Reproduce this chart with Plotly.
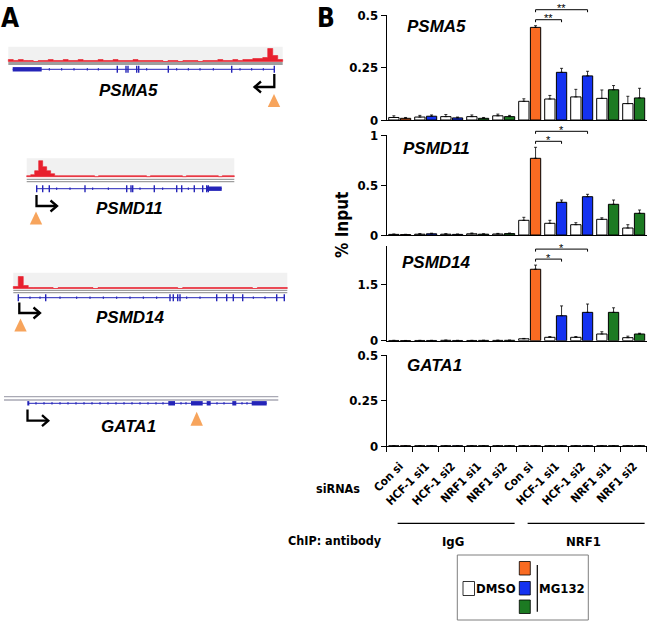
import plotly.graph_objects as go

W, H = 650, 621

# ---------------- data ----------------
sirnas = ["Con si", "HCF-1 si1", "HCF-1 si2", "NRF1 si1", "NRF1 si2"]
chip_groups = ["IgG", "NRF1"]
tick_labels = sirnas + sirnas
genes = ["PSMA5", "PSMD11", "PSMD14", "GATA1"]

psma5_dmso = [0.012, 0.014, 0.016, 0.016, 0.020, 0.089, 0.100, 0.110, 0.103, 0.078]
psma5_dmso_err = [0.008, 0.008, 0.010, 0.008, 0.008, 0.012, 0.017, 0.036, 0.040, 0.035]
psma5_mg = [0.008, 0.018, 0.010, 0.008, 0.016, 0.441, 0.227, 0.210, 0.144, 0.105]
psma5_mg_err = [0.004, 0.006, 0.004, 0.004, 0.006, 0.008, 0.019, 0.022, 0.020, 0.046]

psmd11_dmso = [0.006, 0.008, 0.008, 0.012, 0.010, 0.147, 0.117, 0.103, 0.157, 0.070]
psmd11_dmso_err = [0.004, 0.006, 0.005, 0.008, 0.006, 0.030, 0.030, 0.020, 0.015, 0.033]
psmd11_mg = [0.004, 0.012, 0.006, 0.008, 0.014, 0.767, 0.327, 0.383, 0.307, 0.217]
psmd11_mg_err = [0.003, 0.006, 0.004, 0.004, 0.006, 0.110, 0.023, 0.024, 0.043, 0.033]

psmd14_dmso = [0.006, 0.006, 0.010, 0.006, 0.008, 0.050, 0.090, 0.090, 0.177, 0.080]
psmd14_dmso_err = [0.004, 0.004, 0.006, 0.004, 0.006, 0.010, 0.020, 0.020, 0.060, 0.040]
psmd14_mg = [0.004, 0.006, 0.006, 0.008, 0.010, 1.890, 0.660, 0.750, 0.750, 0.177]
psmd14_mg_err = [0.003, 0.004, 0.004, 0.004, 0.006, 0.110, 0.260, 0.220, 0.120, 0.020]

gata1_dmso = [0.001, 0.001, 0.001, 0.001, 0.001, 0.001, 0.001, 0.001, 0.001, 0.001]
gata1_dmso_err = [0, 0, 0, 0, 0, 0, 0, 0, 0, 0]
gata1_mg = [0.001, 0.001, 0.001, 0.001, 0.001, 0.001, 0.001, 0.001, 0.001, 0.001]
gata1_mg_err = [0, 0, 0, 0, 0, 0, 0, 0, 0, 0]

# significance: (from index, to index, label)
sig_psma5 = [(5, 6, "**"), (5, 7, "**")]
sig_psmd11 = [(5, 6, "*"), (5, 7, "*")]
sig_psmd14 = [(5, 6, "*"), (5, 7, "*")]
sig_gata1 = []

# ChIP-seq signal heights (relative, read from the tracks)
psma5_signal = [2, 1, 2, 1, 1, 0, 1, 1, 2, 1, 1, 2, 1, 1, 2, 1, 1, 1, 2, 1, 1, 2, 1, 1, 1, 2, 1, 1,
                1, 1, 1, 0, 1, 1, 0, 1, 1, 1, 0, 1, 1, 1, 2, 1, 1, 2, 1, 2, 2, 3, 3, 4, 13, 6, 2]
psmd11_signal = [1, 2, 6, 16, 10, 6, 3, 1, 1, 1, 1, 1, 1, 1, 1, 1, 1, 0, 1, 1, 1, 1, 1, 1, 1, 1,
                 1, 1, 1, 1, 0, 1, 1, 1, 1, 1, 1, 1, 1, 0, 1, 1, 1, 1, 1, 1, 1, 1, 0, 1, 1, 1]
psmd14_signal = [2, 12, 3, 1, 1, 1, 1, 1, 0, 1, 1, 1, 1, 1, 1, 1, 0, 1, 1, 1, 1, 1, 1, 1, 1, 1, 1, 1,
                 1, 1, 1, 1, 1, 0, 1, 1, 1, 1, 1, 1, 1, 1, 1, 1, 1, 1, 1, 1, 0, 1, 1, 1, 1, 1, 1]
gata1_signal = []

# ---------------- styles / geometry ----------------
ORANGE = "#F96B22"
BLUE = "#1432F0"
GREEN = "#1C7A22"
mg_colors = [ORANGE, BLUE, BLUE, GREEN, GREEN] * 2
GENE_BLUE = "#2424B8"
SIG_RED = "#E8202E"
TRI = "#F7A45C"
COND = "Liberation Sans Narrow, DejaVu Sans Condensed, Arial Narrow, sans-serif"
HELV = "Liberation Sans, Arial, Helvetica, sans-serif"

def px(x):
    return x / W

def py(y):
    return 1 - y / H

X_LEFT, X_RIGHT = 386.7, 646.7
xdom = [px(X_LEFT), px(X_RIGHT)]
panel_px = [(120, 15), (235, 135), (340.7, 246.2), (446, 355)]
panel_max = [0.5, 1.0, 2.5, 0.5]
panel_ticks = [[0, 0.25, 0.5], [0, 0.5, 1], [0, 1.5], [0, 0.25, 0.5]]
panel_ticktext = [["0", "0.25", "0.5"], ["0", "0.5", "1"], ["0", "1.5"], ["0", "0.25", "0.5"]]
title_px = [(436, 27), (436, 149), (436, 262.7), (434.5, 366)]

panels = [
    (psma5_dmso, psma5_dmso_err, psma5_mg, psma5_mg_err, sig_psma5),
    (psmd11_dmso, psmd11_dmso_err, psmd11_mg, psmd11_mg_err, sig_psmd11),
    (psmd14_dmso, psmd14_dmso_err, psmd14_mg, psmd14_mg_err, sig_psmd14),
    (gata1_dmso, gata1_dmso_err, gata1_mg, gata1_mg_err, sig_gata1),
]

fig = go.Figure()
xi = list(range(10))
shapes = []
annotations = []
BAR_OFF = 0.225

def xpaper(v):
    return xdom[0] + (v + 0.5) / 10 * (xdom[1] - xdom[0])

def ann(x, y, text, font, xanchor="center", yanchor="middle", angle=0, xref="paper", yref="paper"):
    annotations.append(dict(x=x, y=y, xref=xref, yref=yref, text=text, showarrow=False,
                            xanchor=xanchor, yanchor=yanchor, textangle=angle, font=font))

TITLE_FONT = dict(family=HELV, size=17, color="black", weight="bold", style="italic")

for k, (dm, dme, mg, mge, sig) in enumerate(panels):
    n = k + 1
    xa = "x" if n == 1 else f"x{n}"
    ya = "y" if n == 1 else f"y{n}"
    fig.add_trace(go.Bar(
        x=xi, y=dm, xaxis=xa, yaxis=ya, name="DMSO",
        marker=dict(color="white", line=dict(color="black", width=1)),
        error_y=dict(type="data", array=dme, arrayminus=[0] * 10, symmetric=False,
                     color="black", thickness=0.8, width=1.5),
    ))
    fig.add_trace(go.Bar(
        x=xi, y=mg, xaxis=xa, yaxis=ya, name="MG132",
        marker=dict(color=mg_colors, line=dict(color="black", width=1)),
        error_y=dict(type="data", array=mge, arrayminus=[0] * 10, symmetric=False,
                     color="black", thickness=0.8, width=1.5),
    ))
    z, t = panel_px[k]
    dom = [py(z), py(t)]
    yax = dict(domain=dom, range=[0, panel_max[k]], anchor=xa, showline=True,
               linecolor="black", linewidth=1, ticks="outside", ticklen=5,
               tickcolor="black", tickvals=panel_ticks[k], ticktext=panel_ticktext[k],
               tickfont=dict(family=COND, size=13, color="black", weight="bold"),
               showgrid=False, zeroline=False, fixedrange=True, automargin=False)
    xax = dict(domain=xdom, range=[-0.5, 9.5], anchor=ya, showline=True,
               linecolor="black", linewidth=1, showgrid=False, zeroline=False,
               ticks="", showticklabels=False, automargin=False, fixedrange=True)
    if n == 4:
        xax.update(showticklabels=True, tickvals=xi, ticktext=tick_labels, tickangle=-45,
                   ticklabelstandoff=8,
                   tickfont=dict(family=COND, size=11.5, color="black", weight="bold"),
                   minor=dict(ticks="outside", ticklen=5, tickcolor="black", tickwidth=1,
                              tickvals=[i - 0.5 for i in range(11)]))
    fig.layout[("xaxis" if n == 1 else f"xaxis{n}")] = xax
    fig.layout[("yaxis" if n == 1 else f"yaxis{n}")] = yax

    ann(px(title_px[k][0]), py(title_px[k][1]), genes[k], TITLE_FONT)

    def ypix(v, z=z, t=t, m=panel_max[k]):
        return z - v / m * (z - t)
    for j, (a, b, lab) in enumerate(sig):
        top = ypix(max(dm[a] + dme[a], mg[a] + mge[a]))
        yb = top - 6 - 10 * j
        x0 = xpaper(a + BAR_OFF)
        x1 = xpaper(b + BAR_OFF)
        shapes.append(dict(type="path", xref="paper", yref="paper",
                           path=f"M {x0},{py(yb + 2.5)} L {x0},{py(yb)} L {x1},{py(yb)} L {x1},{py(yb + 2.5)}",
                           line=dict(color="black", width=1)))
        ann((x0 + x1) / 2, py(yb - 1.5), lab, dict(family=HELV, size=11, color="black"))

# ---------------- panel A (genome tracks) on a pixel-scaled overlay axis ----------------
tracks = [
    dict(signal=psma5_signal, band=(8.3, 282.7, 46.7, 61.5), base=61.5, greylines=[(63.5, 3)],
         gl_x=(8.3, 282.7),
         line=(12.7, 274.7), gy=69.3, thick=[(12.7, 41.7)],
         exons=[117.3, 126, 128, 136.7, 138.7, 168.3, 231.7, 274.3],
         marks=[49.3, 61.7, 74, 87.3, 98.3, 146.7, 176.7, 188.3, 200, 213.3, 240, 251.7, 263.3],
         arrow="M 274.3,74 L 274.3,87 L 254.5,87", head="M 261,81.5 L 254.5,87 L 261,92.5",
         tri=(274, 94, 107), label=(128.3, 90.7)),
    dict(signal=psmd11_signal, band=(26.7, 234.3, 158.3, 176.7), base=176.7,
         greylines=[(179.3, 1.2), (181.7, 1.2)], gl_x=(26.7, 234.3),
         line=(36, 221.7), gy=188.7, thick=[(206.7, 221.7)],
         exons=[36.7, 42.7, 49.3, 85, 126.7, 131, 132.7, 154.3, 176.7, 181.7, 194.3, 202.7, 206.7, 208.3],
         marks=[56.7, 70, 92.7, 108.3, 140, 162.7, 188.3],
         arrow="M 36.5,195 L 36.5,206 L 57,206", head="M 50.5,200.5 L 57,206 L 50.5,211.5",
         tri=(36, 211.5, 224.5), label=(129.5, 208.3)),
    dict(signal=psmd14_signal, band=(13.3, 287.3, 272.7, 288.5), base=288.5,
         greylines=[(290.3, 1.2), (292.7, 1.2)], gl_x=(13.3, 287.3),
         line=(18.3, 285), gy=297.7, thick=[],
         exons=[18.3, 45.7, 170, 173.3, 177.7, 180, 216.7, 226.7, 233.3, 242.7, 276.7, 284.3],
         marks=[30, 40, 60, 76.7, 90, 103.3, 116.7, 130, 143.3, 156.7, 186.7, 200, 253.3, 265],
         arrow="M 19.3,302.5 L 19.3,313 L 40,313", head="M 33.5,307.5 L 40,313 L 33.5,318.5",
         tri=(20.5, 318.5, 331.5), label=(130, 317.3)),
    dict(signal=gata1_signal, band=None, base=None,
         greylines=[(396.7, 1.3), (400, 1.3)], gl_x=(4, 278.3),
         line=(28.3, 266.7), gy=403.3,
         thick=[(27.3, 29.3), (168.3, 175), (191, 202.7), (206.7, 210.7), (232.3, 236.3), (251.7, 266.7)],
         exons=[],
         marks=[36, 44, 52, 60, 68, 76, 84, 92, 100, 108, 116, 124, 132, 140, 148, 156, 163, 181, 186, 217, 224, 242, 247],
         arrow="M 27.5,409.5 L 27.5,420.7 L 48.3,420.7", head="M 42,415.2 L 48.3,420.7 L 42,426.2",
         tri=(196.7, 411.7, 425.7), label=(128.3, 426.7)),
]

for k, tr in enumerate(tracks):
    if tr["band"] is not None:
        bx0, bx1, by0, by1 = tr["band"]
        shapes.append(dict(type="rect", xref="x5", yref="y5", x0=bx0, x1=bx1, y0=by0, y1=by1,
                           fillcolor="#F1F1F1", line=dict(width=0), layer="below"))
    for (gy, gw) in tr["greylines"]:
        shapes.append(dict(type="line", xref="x5", yref="y5", x0=tr["gl_x"][0], x1=tr["gl_x"][1],
                           y0=gy, y1=gy, line=dict(color="#A9A9B4" if k == 3 else "#9E9E9E", width=gw)))
    sig = tr["signal"]
    if sig:
        bx0, bx1, _, _ = tr["band"]
        nb = len(sig)
        step = (bx1 - bx0) / nb
        xs, ys = [bx0], [tr["base"]]
        for i, h in enumerate(sig):
            xs += [bx0 + i * step, bx0 + (i + 1) * step]
            ys += [tr["base"] - h, tr["base"] - h]
        xs += [bx1, bx0]
        ys += [tr["base"], tr["base"]]
        fig.add_trace(go.Scatter(x=xs, y=ys, xaxis="x5", yaxis="y5", mode="lines", fill="toself",
                                 fillcolor=SIG_RED, line=dict(color=SIG_RED, width=0.6),
                                 hoverinfo="skip"))
    gy = tr["gy"]
    shapes.append(dict(type="line", xref="x5", yref="y5", x0=tr["line"][0], x1=tr["line"][1],
                       y0=gy, y1=gy, line=dict(color=GENE_BLUE, width=1)))
    for (a, b) in tr["thick"]:
        shapes.append(dict(type="rect", xref="x5", yref="y5", x0=a, x1=b, y0=gy - 2.2, y1=gy + 2.2,
                           fillcolor=GENE_BLUE, line=dict(width=0)))
    for e in tr["exons"]:
        shapes.append(dict(type="line", xref="x5", yref="y5", x0=e, x1=e, y0=gy - 3.5, y1=gy + 3.5,
                           line=dict(color=GENE_BLUE, width=1.4)))
    for m in tr["marks"]:
        shapes.append(dict(type="line", xref="x5", yref="y5", x0=m, x1=m, y0=gy - 1.3, y1=gy + 1.3,
                           line=dict(color=GENE_BLUE, width=1)))
    shapes.append(dict(type="path", xref="x5", yref="y5", path=tr["arrow"],
                       line=dict(color="black", width=2.3)))
    shapes.append(dict(type="path", xref="x5", yref="y5", path=tr["head"],
                       line=dict(color="black", width=2.3)))
    tx, ty0, ty1 = tr["tri"]
    shapes.append(dict(type="path", xref="x5", yref="y5",
                       path=f"M {tx},{ty0} L {tx - 6.2},{ty1} L {tx + 6.2},{ty1} Z",
                       fillcolor=TRI, line=dict(width=0)))
    ann(tr["label"][0], tr["label"][1], genes[k], TITLE_FONT, xref="x5", yref="y5")

fig.layout.xaxis5 = dict(domain=[0, px(300)], range=[0, 300], visible=False, fixedrange=True,
                         anchor="y5", automargin=False)
fig.layout.yaxis5 = dict(domain=[0, 1], range=[H, 0], visible=False, fixedrange=True, anchor="x5",
                         automargin=False)

# ---------------- labels, group lines, legend box ----------------
def cfont(size):
    return dict(family=COND, size=size, color="black", weight="bold")

ann(px(9.5), py(18), "A", cfont(26))
ann(px(326), py(18), "B", cfont(26))
ann(px(342), py(225), "% Input", cfont(17), angle=-90)
ann(px(362), py(488), "siRNAs", cfont(12.5), xanchor="right")
ann(px(384), py(540), "ChIP: antibody", cfont(12.5), xanchor="right")

for g, (a, b) in enumerate([(0, 4), (5, 9)]):
    x0, x1 = xpaper(a - 0.08), xpaper(b + 0.42)
    shapes.append(dict(type="line", xref="paper", yref="paper", x0=x0, x1=x1, y0=py(523.3), y1=py(523.3),
                       line=dict(color="black", width=1.2)))
    ann((x0 + x1) / 2 - px(3), py(541), chip_groups[g], cfont(13))

shapes.append(dict(type="rect", xref="paper", yref="paper", x0=px(457.3), x1=px(588.3), y0=py(555),
                   y1=py(620), line=dict(color="#7F7F7F", width=1), fillcolor="white"))
for (y0, y1, col, x0, x1) in [(581.5, 595.5, "white", 463, 474.5),
                              (561.5, 575, ORANGE, 519.3, 530.3),
                              (581.5, 595, BLUE, 519.3, 530.3),
                              (600, 613.5, GREEN, 519.3, 530.3)]:
    shapes.append(dict(type="rect", xref="paper", yref="paper", x0=px(x0), x1=px(x1), y0=py(y0), y1=py(y1),
                       fillcolor=col, line=dict(color="black", width=0.8)))
shapes.append(dict(type="line", xref="paper", yref="paper", x0=px(537.3), x1=px(537.3), y0=py(565),
                   y1=py(611.7), line=dict(color="black", width=1.2)))
ann(px(496), py(588.5), "DMSO", cfont(13))
ann(px(562), py(588.5), "MG132", cfont(13))

fig.update_layout(
    width=W, height=H, margin=dict(l=0, r=0, t=0, b=0, pad=0, autoexpand=False),
    paper_bgcolor="white", plot_bgcolor="rgba(0,0,0,0)",
    barmode="group", bargap=0.1, bargroupgap=0.12,
    showlegend=False, shapes=shapes, annotations=annotations,
)

fig.write_html("out.html", config={"displayModeBar": False},
               post_script="document.body.style.margin='0px';")
